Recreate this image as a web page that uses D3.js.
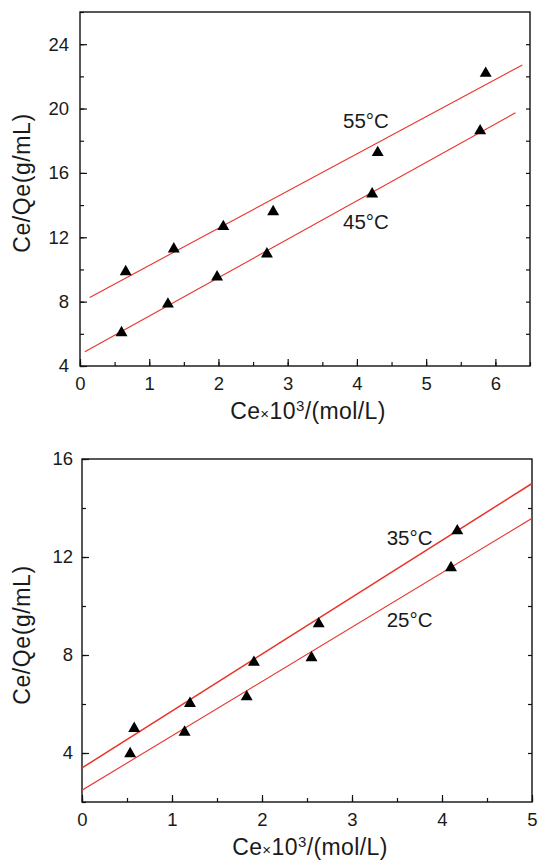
<!DOCTYPE html>
<html>
<head>
<meta charset="utf-8">
<script src="https://cdn.jsdelivr.net/npm/d3@7"></script>
<style>
  body { margin: 0; background: #fff; }
  svg { display: block; }
  text { font-family: "Liberation Sans", Arial, Helvetica, sans-serif; fill: #1a1a1a; }
</style>
</head>
<body>
<svg id="chart" width="539" height="861"></svg>
<script>
// ---- Upper panel: 45 °C and 55 °C ----
const ce55 = [0.66, 1.355, 2.07, 2.79, 4.30, 5.86];
const q55  = [9.86, 11.27, 12.66, 13.59, 17.26, 22.19];
const ce45 = [0.60, 1.27, 1.98, 2.70, 4.22, 5.78];
const q45  = [6.07, 7.85, 9.53, 10.96, 14.69, 18.61];
const fit55 = [7.94, 2.311];          // intercept, slope
const fit45 = [4.72, 2.387];
const span55 = [0.14, 6.39];
const span45 = [0.07, 6.29];
const xTicksTop = [0, 1, 2, 3, 4, 5, 6];
const yTicksTop = [4, 8, 12, 16, 20, 24];

// ---- Lower panel: 25 °C and 35 °C ----
const ce35 = [0.58, 1.20, 1.91, 2.63, 4.17];
const q35  = [5.00, 6.02, 7.70, 9.27, 13.07];
const ce25 = [0.535, 1.14, 1.83, 2.55, 4.10];
const q25  = [3.97, 4.85, 6.29, 7.89, 11.56];
const fit35 = [3.39, 2.322];
const fit25 = [2.48, 2.22];
const span35 = [0, 5];
const span25 = [0, 5];
const xTicksBottom = [0, 1, 2, 3, 4, 5];
const yTicksBottom = [4, 8, 12, 16];

const svg = d3.select("#chart");
const red = "#e8332a";
const tickFont = 18.5;

function drawPanel(cfg) {
  const x = d3.scaleLinear().domain(cfg.xDomain).range([cfg.left, cfg.right]);
  const y = d3.scaleLinear().domain(cfg.yDomain).range([cfg.bottom, cfg.top]);
  const g = svg.append("g");
  const clipId = "clip" + cfg.id;
  svg.append("clipPath").attr("id", clipId).append("rect")
    .attr("x", cfg.left).attr("y", cfg.top)
    .attr("width", cfg.right - cfg.left).attr("height", cfg.bottom - cfg.top);

  // frame
  g.append("rect")
    .attr("x", cfg.left).attr("y", cfg.top)
    .attr("width", cfg.right - cfg.left).attr("height", cfg.bottom - cfg.top)
    .attr("fill", "none").attr("stroke", "#111").attr("stroke-width", 1.4);

  // bottom axis: major + minor ticks pointing inward
  const xMinor = d3.range(cfg.xDomain[0], cfg.xDomain[1] + 1e-9, 0.5);
  g.append("g").attr("transform", `translate(0,${cfg.bottom})`)
    .call(d3.axisBottom(x).tickValues(xMinor).tickSize(-4).tickFormat(""))
    .call(a => a.select(".domain").remove());
  g.append("g").attr("transform", `translate(0,${cfg.bottom})`)
    .call(d3.axisBottom(x).tickValues(cfg.xTicks).tickSize(-7).tickPadding(11).tickFormat(d3.format("d")))
    .call(a => a.select(".domain").remove())
    .call(a => a.selectAll("text").attr("font-size", tickFont).attr("fill", "#1a1a1a")
      .attr("font-family", "Liberation Sans, Arial, sans-serif"));

  // left axis
  const yMinor = d3.range(cfg.yDomain[0], cfg.yDomain[1] + 1e-9, 2);
  g.append("g").attr("transform", `translate(${cfg.left},0)`)
    .call(d3.axisLeft(y).tickValues(yMinor).tickSize(-4).tickFormat(""))
    .call(a => a.select(".domain").remove());
  g.append("g").attr("transform", `translate(${cfg.left},0)`)
    .call(d3.axisLeft(y).tickValues(cfg.yTicks).tickSize(-7).tickPadding(cfg.yPad).tickFormat(d3.format("d")))
    .call(a => a.select(".domain").remove())
    .call(a => a.selectAll("text").attr("font-size", tickFont).attr("fill", "#1a1a1a")
      .attr("font-family", "Liberation Sans, Arial, sans-serif"));

  // right axis: short inward ticks
  g.append("g").attr("transform", `translate(${cfg.right},0)`)
    .call(d3.axisRight(y).tickValues(yMinor.filter(v => v > cfg.yDomain[0] && v < cfg.yDomain[1])).tickSize(-4).tickFormat(""))
    .call(a => a.select(".domain").remove());

  g.selectAll(".tick line").attr("stroke", "#111").attr("stroke-width", 1.2);

  // fitted lines
  const lines = g.append("g").attr("clip-path", `url(#${clipId})`);
  cfg.series.forEach(s => {
    const xs = s.span;
    lines.append("line")
      .attr("x1", x(xs[0])).attr("y1", y(s.fit[0] + s.fit[1] * xs[0]))
      .attr("x2", x(xs[1])).attr("y2", y(s.fit[0] + s.fit[1] * xs[1]))
      .attr("stroke", red).attr("stroke-width", s.width);
  });

  // data points
  const tri = d3.symbol().type(d3.symbolTriangle).size(62);
  cfg.series.forEach(s => {
    g.append("g").selectAll("path").data(s.ce.map((c, i) => [c, s.q[i]])).join("path")
      .attr("d", tri)
      .attr("transform", d => `translate(${x(d[0])},${y(d[1])})`)
      .attr("fill", "#000");
  });

  // series labels
  cfg.series.forEach(s => {
    g.append("text").attr("x", x(s.label[0])).attr("y", y(s.label[1]))
      .attr("font-size", 20.5).text(s.name);
  });

  // axis titles
  const xt = g.append("text")
    .attr("x", (cfg.left + cfg.right) / 2 + 3).attr("y", cfg.bottom + 53)
    .attr("text-anchor", "middle").attr("font-size", 23).attr("letter-spacing", 0.4);
  xt.append("tspan").text("Ce");
  xt.append("tspan").attr("font-size", 15).text("×");
  xt.append("tspan").text("10");
  xt.append("tspan").attr("font-size", 15).attr("dy", -8).text("3");
  xt.append("tspan").attr("dy", 8).text("/(mol/L)");

  g.append("text")
    .attr("transform", `translate(30,${cfg.titleY}) rotate(-90)`)
    .attr("text-anchor", "middle").attr("font-size", 23).attr("letter-spacing", 0.6)
    .text("Ce/Qe(g/mL)");
}

drawPanel({
  id: "top", left: 80, right: 530, top: 12, bottom: 366, yPad: 11,
  xDomain: [0, 6.5], yDomain: [4, 26], xTicks: xTicksTop, yTicks: yTicksTop, titleY: 183,
  series: [
    { name: "55°C", ce: ce55, q: q55, fit: fit55, span: span55, width: 1.1, label: [3.80, 18.81] },
    { name: "45°C", ce: ce45, q: q45, fit: fit45, span: span45, width: 1.1, label: [3.80, 12.5] }
  ]
});

drawPanel({
  id: "bottom", left: 82, right: 532, top: 459, bottom: 802, yPad: 9,
  xDomain: [0, 5], yDomain: [2, 16], xTicks: xTicksBottom, yTicks: yTicksBottom, titleY: 635,
  series: [
    { name: "35°C", ce: ce35, q: q35, fit: fit35, span: span35, width: 1.5, label: [3.385, 12.48] },
    { name: "25°C", ce: ce25, q: q25, fit: fit25, span: span25, width: 1.1, label: [3.385, 9.13] }
  ]
});
</script>
</body>
</html>
